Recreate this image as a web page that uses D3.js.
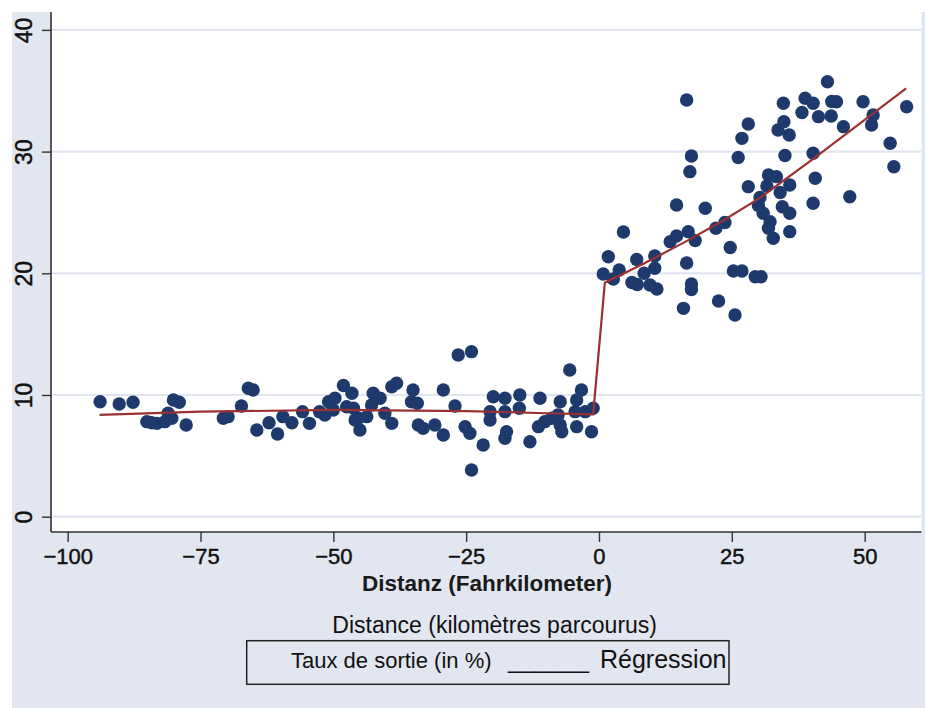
<!DOCTYPE html>
<html>
<head>
<meta charset="utf-8">
<script src="https://cdn.jsdelivr.net/npm/d3@7"></script>
<style>
  html, body { margin: 0; padding: 0; background: #fff; }
  svg { display: block; font-family: "Liberation Sans", Arial, sans-serif; }
</style>
</head>
<body>
<svg id="chart" width="925" height="708"></svg>
<script>
// distance (km) and exit rate (%) for each observation
const distX = [
  -93.9, -90.3, -87.7, -85.1, -84.2, -83.2, -81.7, -80.4, -81.1, -80.1,
  -79.0, -77.7, -70.7, -69.8, -67.3, -66.0, -65.1, -64.4, -62.1, -60.5,
  -59.5, -57.8, -55.8, -54.5, -52.6, -51.6, -50.9, -49.7, -48.1, -47.5,
  -46.5, -50.0, -46.2, -45.3, -45.0, -45.9, -43.7, -42.5, -41.2, -42.8,
  -40.3, -39.0, -39.0, -38.1, -35.0, -35.3, -34.2, -34.0, -33.1, -30.9,
  -29.3, -29.3, -27.1, -26.5, -24.0, -25.2, -24.3, -24.0, -21.8, -20.5,
  -20.5, -19.9, -17.7, -17.7, -17.4, -17.7, -14.9, -15.0, -13.0, -11.1,
  -11.4, -10.2, -8.9, -7.3, -7.7, -7.0, -7.3, -5.5, -3.3, -4.2,
  -4.5, -4.2, -2.6, -1.1, -1.4,
  0.8, 1.75, 2.7, 3.8, 4.6, 6.2, 7.2, 7.1, 8.5, 9.6,
  10.9, 10.5, 10.5, 13.4, 14.6, 14.6, 16.5, 17.4, 17.1, 16.8,
  18.1, 16.5, 17.4, 17.4, 15.9, 20.0, 22.0, 23.7, 24.7, 25.3,
  26.9, 22.5, 25.6, 29.4, 30.5, 26.2, 26.9, 28.1, 28.1, 30.3,
  30.0, 30.9, 31.6, 31.9, 33.4, 34.1, 35.9, 34.5, 35.9, 32.2,
  31.9, 32.8, 35.9, 35.0, 33.7, 34.8, 35.8, 34.7, 38.2, 38.8,
  40.3, 41.3, 43.0, 43.8, 44.7, 43.7, 40.3, 40.7, 40.3, 46.0,
  47.2, 49.7, 51.6, 51.3, 54.8, 55.5, 57.9
];
const rateY = [
  9.45, 9.26, 9.40, 7.81, 7.72, 7.67, 7.81, 8.09, 8.50, 9.59,
  9.40, 7.53, 8.09, 8.22, 9.10, 10.55, 10.41, 7.12, 7.72, 6.80,
  8.22, 7.72, 8.63, 7.67, 8.63, 8.36, 9.45, 9.73, 10.78, 9.04,
  10.14, 8.77, 8.91, 8.09, 7.12, 7.95, 8.22, 10.14, 9.73, 9.18,
  8.50, 7.67, 10.68, 10.96, 10.41, 9.45, 9.32, 7.53, 7.26, 7.53,
  6.71, 10.41, 9.10, 13.29, 13.56, 7.40, 6.85, 3.84, 5.89, 7.95,
  8.63, 9.86, 9.73, 8.63, 6.98, 6.44, 10.0, 8.91, 6.16, 9.73,
  7.40, 7.81, 8.09, 9.45, 8.36, 6.98, 7.53, 12.05, 10.41, 9.59,
  8.63, 7.40, 8.63, 8.91, 6.98,
  19.94, 21.36, 19.53, 20.27, 23.39, 19.24, 19.08, 21.13, 20.0, 19.04,
  18.71, 21.42, 20.41, 22.60, 23.06, 25.61, 34.24, 29.64, 28.35, 23.42,
  22.70, 20.85, 19.12, 18.67, 17.12, 25.34, 23.70, 24.17, 22.12, 20.19,
  20.19, 17.72, 16.57, 19.72, 19.72, 29.52, 31.09, 32.27, 27.12, 26.23,
  25.57, 24.93, 27.17, 28.08, 27.94, 26.64, 27.26, 25.47, 24.93, 24.24,
  23.70, 22.88, 23.42, 29.68, 31.77, 32.46, 31.36, 33.97, 33.21, 34.38,
  33.97, 32.87, 35.74, 34.12, 34.10, 32.93, 29.86, 27.81, 25.75, 32.05,
  26.29, 34.10, 33.01, 32.19, 30.68, 28.76, 33.69
];

// fitted regression (left and right of the cutoff, joined)
const regX = [-94, -75, -50, -25, -10, -1.1, 1.1, 8, 16.3, 23, 30.3, 40, 50, 57.8];
const regY = [8.36, 8.63, 8.77, 8.68, 8.5, 8.4, 19.23, 20.7, 22.6, 24.24, 26.2, 29.3, 32.6, 35.2];

const xTicks = [-100, -75, -50, -25, 0, 25, 50];
const yTicks = [0, 10, 20, 30, 40];

const xTitle = "Distanz (Fahrkilometer)";
const xSubTitle = "Distance (kilomètres parcourus)";
const legendLabels = ["Taux de sortie (in %)", "______", "Régression"];

const svg = d3.select("#chart");
const W = 925, H = 708;
const plot = { left: 51, right: 921.5, top: 12, bottom: 532 };

const x = d3.scaleLinear().domain([-103.14, 60.7]).range([plot.left, plot.right]);
const y = d3.scaleLinear().domain([-1.257, 41.47]).range([plot.bottom, plot.top]);

// backgrounds
svg.append("rect").attr("width", W).attr("height", H).attr("fill", "#fff");
svg.append("rect").attr("x", 12).attr("y", 12).attr("width", W - 12).attr("height", H - 12)
  .attr("fill", "#e1e6f0");
svg.append("rect").attr("x", plot.left).attr("y", 0)
  .attr("width", plot.right - plot.left).attr("height", plot.bottom)
  .attr("fill", "#fff");

// grid
svg.append("g").selectAll("line").data(yTicks).join("line")
  .attr("x1", plot.left).attr("x2", plot.right)
  .attr("y1", d => y(d)).attr("y2", d => y(d))
  .attr("stroke", "#e1e5f0").attr("stroke-width", 2.2);

// axes
const xAxis = svg.append("g")
  .attr("transform", `translate(0,${plot.bottom})`)
  .call(d3.axisBottom(x).tickValues(xTicks).tickSize(10).tickPadding(6).tickFormat(d3.format("")));
xAxis.select(".domain").attr("stroke", "#333").attr("stroke-width", 1.6)
  .attr("d", `M${plot.left},0H${plot.right}`);
xAxis.selectAll(".tick line").attr("stroke", "#333").attr("stroke-width", 1.4);
xAxis.selectAll(".tick text").attr("fill", "#111").attr("font-size", 22)
  .attr("stroke", "#111").attr("stroke-width", 0.45)
  .attr("font-family", "Liberation Sans, Arial, sans-serif");

const yAxis = svg.append("g")
  .attr("transform", `translate(${plot.left},0)`)
  .call(d3.axisLeft(y).tickValues(yTicks).tickSize(9).tickFormat(d3.format("")));
yAxis.select(".domain").attr("stroke", "#333").attr("stroke-width", 1.6)
  .attr("d", `M0,${plot.top}V${plot.bottom}`);
yAxis.selectAll(".tick line").attr("stroke", "#333").attr("stroke-width", 1.4);
yAxis.selectAll(".tick text")
  .attr("fill", "#111").attr("font-size", 23)
  .attr("stroke", "#111").attr("stroke-width", 0.45)
  .attr("font-family", "Liberation Sans, Arial, sans-serif")
  .attr("text-anchor", "middle").attr("dy", 0)
  .attr("x", null)
  .attr("transform", "translate(-19,0) rotate(-90)");

// points
svg.append("g").selectAll("circle").data(distX).join("circle")
  .attr("cx", d => x(d))
  .attr("cy", (d, i) => y(rateY[i]))
  .attr("r", 6.7)
  .attr("fill", "#1e3a6c");

// regression line
const line = d3.line().x(d => x(d[0])).y(d => y(d[1]));
svg.append("path")
  .datum(regX.map((v, i) => [v, regY[i]]))
  .attr("d", line)
  .attr("fill", "none")
  .attr("stroke", "#9b3032")
  .attr("stroke-width", 2.2);

// titles
svg.append("text").attr("x", 487).attr("y", 591)
  .attr("text-anchor", "middle").attr("font-size", 22.5).attr("font-weight", "bold")
  .attr("fill", "#1a1a1a").text(xTitle);
svg.append("text").attr("x", 494.7).attr("y", 633)
  .attr("text-anchor", "middle").attr("font-size", 23)
  .attr("fill", "#111").text(xSubTitle);

// legend
svg.append("rect").attr("x", 246.7).attr("y", 640.7)
  .attr("width", 729 - 246.7).attr("height", 684.3 - 640.7)
  .attr("fill", "none").attr("stroke", "#222").attr("stroke-width", 1.5);
svg.append("text").attr("x", 291).attr("y", 668).attr("font-size", 22)
  .attr("fill", "#111").text(legendLabels[0]);
svg.append("text").attr("x", 508).attr("y", 668).attr("font-size", 24.3)
  .attr("fill", "#111").text(legendLabels[1]);
svg.append("text").attr("x", 600).attr("y", 667.5).attr("font-size", 25)
  .attr("fill", "#111").text(legendLabels[2]);
</script>
</body>
</html>
